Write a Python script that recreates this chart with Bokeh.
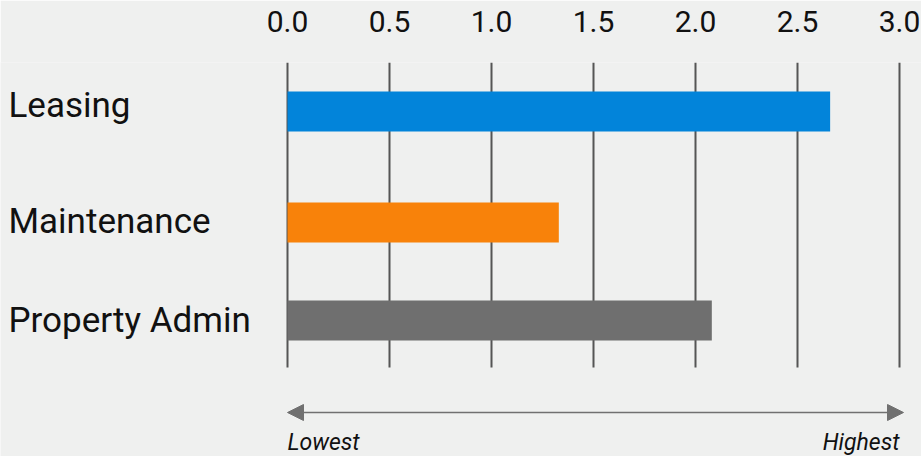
from bokeh.plotting import figure
from bokeh.models import Range1d, FixedTicker, Arrow, NormalHead, ColumnDataSource
from bokeh.core.properties import value
from bokeh.embed import file_html
from bokeh.resources import INLINE

# ---- data ----
categories = ["Leasing", "Maintenance", "Property Admin"]
scores = [2.66, 1.33, 2.08]
bar_colors = ["#0284DA", "#F8820A", "#6F6F6F"]
tick_values = [0.0, 0.5, 1.0, 1.5, 2.0, 2.5, 3.0]
tick_labels = ["0.0", "0.5", "1.0", "1.5", "2.0", "2.5", "3.0"]
scale_low = "Lowest"
scale_high = "Highest"

# ---- layout (pixels) ----
W, H = 921, 456
PX_PER_UNIT = 204.0
ZERO_PX = 287
TOP = 62
row_y = [111, 222, 320]
label_y = [105, 221, 320]
BAR_H = 40
GRID_Y0, GRID_Y1 = 62, 367
ARROW_Y = 412
SCALE_TEXT_Y = 442
BG = "#EFF0EF"

p = figure(width=W, height=H, output_backend="svg", toolbar_location=None,
           x_range=Range1d(-ZERO_PX / PX_PER_UNIT, (W - ZERO_PX) / PX_PER_UNIT),
           y_range=Range1d(H, TOP), x_axis_location="above",
           min_border_left=0, min_border_right=0, min_border_bottom=0,
           min_border_top=TOP)
p.background_fill_color = BG
p.border_fill_color = BG
p.outline_line_color = None
p.grid.visible = False
p.yaxis.visible = False

ax = p.xaxis[0]
ax.ticker = FixedTicker(ticks=tick_values)
ax.major_label_overrides = {v: s for v, s in zip(tick_values, tick_labels)}
ax.axis_line_color = None
ax.major_tick_line_color = None
ax.minor_tick_line_color = None
ax.major_tick_out = 0
ax.major_tick_in = 0
ax.major_label_standoff = 31
ax.major_label_text_font = "Roboto"
ax.major_label_text_font_size = "30px"
ax.major_label_text_color = "#111111"

# gridlines
p.segment(x0=tick_values, x1=tick_values,
          y0=[GRID_Y0] * len(tick_values), y1=[GRID_Y1] * len(tick_values),
          line_color="#555555", line_width=2)

# bars
src = ColumnDataSource(dict(y=row_y, right=scores, color=bar_colors, cat=categories))
p.hbar(y="y", left=0, right="right", height=BAR_H, fill_color="color",
       line_color=None, source=src)

# category labels
label_x = p.x_range.start + 8 / PX_PER_UNIT
p.text(x=[label_x] * len(categories), y=label_y, text=categories,
       text_font=value("Roboto"), text_font_size="35px", text_color="#111111",
       text_baseline="middle", text_align="left")

# low/high arrow
head = dict(size=16, fill_color="#707070", line_color="#707070")
p.add_layout(Arrow(x_start=0, y_start=ARROW_Y,
                   x_end=(903 - ZERO_PX) / PX_PER_UNIT, y_end=ARROW_Y,
                   line_color="#707070", line_width=1.5,
                   start=NormalHead(**head), end=NormalHead(**head)))

p.text(x=[0, tick_values[-1]], y=[SCALE_TEXT_Y] * 2, text=[scale_low, scale_high],
       text_font=value("Roboto"), text_font_style="italic", text_font_size="23px",
       text_color="#111111", text_baseline="middle", text_align=["left", "right"])

open("out.html", "w").write(file_html(p, INLINE))
